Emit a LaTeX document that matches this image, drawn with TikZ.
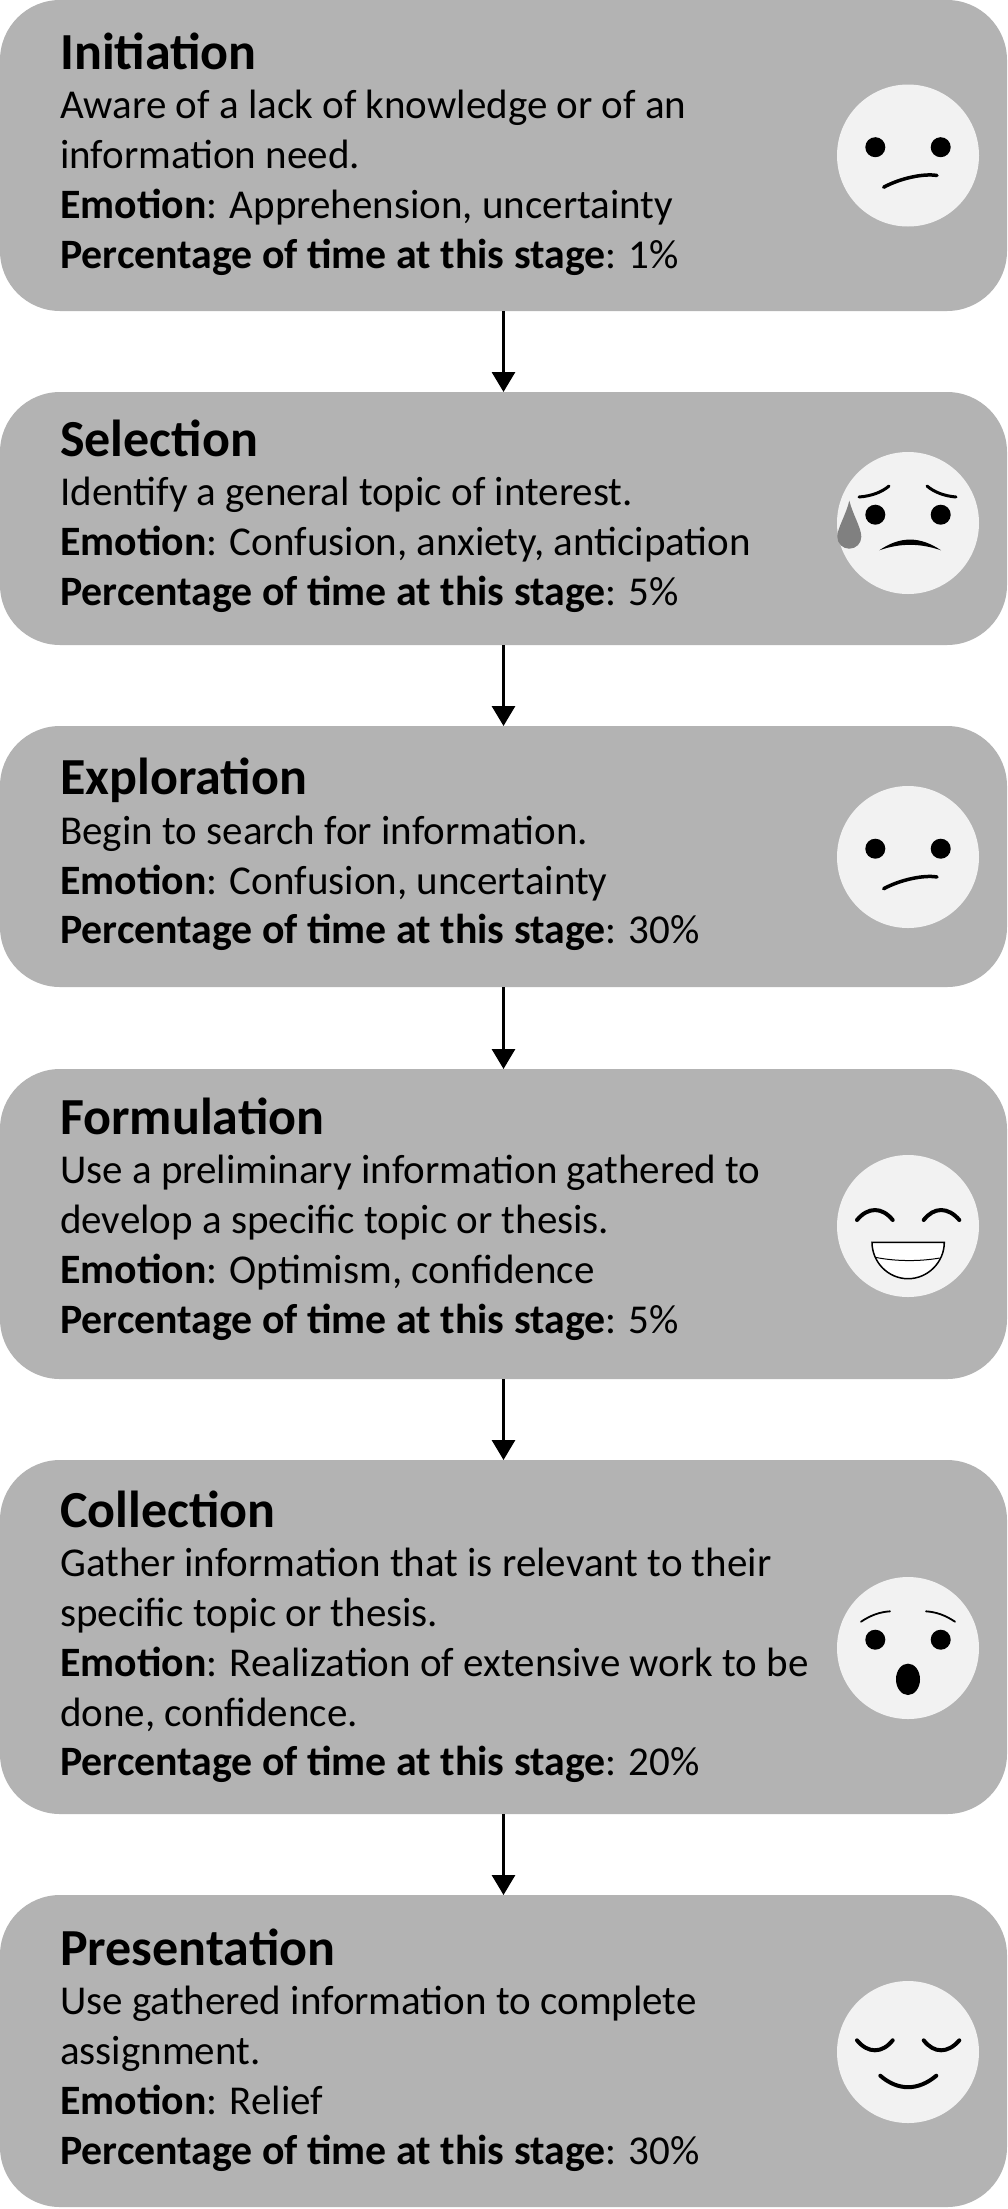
\documentclass[tikz,border=0pt]{standalone}
\usepackage{fontspec}
\setmainfont[BoldFeatures={Scale=1.02}]{Carlito}
\usetikzlibrary{arrows.meta}
\newcommand{\stagetitle}[1]{\rule{0pt}{40pt}{\fontsize{51}{50}\selectfont\textbf{#1}}}

\begin{document}
\begin{tikzpicture}[
  x=1pt, y=-1pt,
  >={Triangle[length=20pt,width=23pt]},
  stagebox/.style={fill=boxgray, rounded corners=60pt, minimum width=1007pt,
                   inner sep=0pt, outer sep=0pt},
  stagetext/.style={anchor=north west, inner sep=0pt, align=left,
                    font=\fontsize{41}{49.7}\selectfont},
  facedisc/.style={circle, fill=facegray, minimum size=142pt, inner sep=0pt},
  eyedot/.style={fill=black},
  faceline/.style={draw=black, line width=3.5pt, line cap=round},
  flow/.style={->, line width=3pt}
]
\definecolor{boxgray}{HTML}{B3B3B3}
\definecolor{facegray}{HTML}{F2F2F2}
\definecolor{dropgray}{HTML}{808080}
\useasboundingbox (0,0) rectangle (1007,2209);

% ---- STAGE BOXES ----
\node[stagebox, minimum height=311pt] (initiation) at (503.5,155.5) {};
\node[stagebox, minimum height=253pt] (selection) at (503.5,518.5) {};
\node[stagebox, minimum height=261pt] (exploration) at (503.5,856.5) {};
\node[stagebox, minimum height=310pt] (formulation) at (503.5,1224) {};
\node[stagebox, minimum height=354pt] (collection) at (503.5,1637) {};
\node[stagebox, minimum height=312pt] (presentation) at (503.5,2051) {};

% ---- ARROWS ----
\draw[flow] (initiation) -- (selection);
\draw[flow] (selection) -- (exploration);
\draw[flow] (exploration) -- (formulation);
\draw[flow] (formulation) -- (collection);
\draw[flow] (collection) -- (presentation);

% ---- STAGE TEXT ----
\node[stagetext] (initiationtext) at (60,29) {\stagetitle{Initiation}\\
  Aware of a lack of knowledge or of an\\
  information need.\\
  \textbf{Emotion}: Apprehension, uncertainty\\
  \textbf{Percentage of time at this stage}: 1\%};
\node[stagetext] (selectiontext) at (60,416) {\stagetitle{Selection}\\
  Identify a general topic of interest.\\
  \textbf{Emotion}: Confusion, anxiety, anticipation\\
  \textbf{Percentage of time at this stage}: 5\%};
\node[stagetext] (explorationtext) at (60,754.5) {\stagetitle{Exploration}\\
  Begin to search for information.\\
  \textbf{Emotion}: Confusion, uncertainty\\
  \textbf{Percentage of time at this stage}: 30\%};
\node[stagetext] (formulationtext) at (60,1094) {\stagetitle{Formulation}\\
  Use a preliminary information gathered to\\
  develop a specific topic or thesis.\\
  \textbf{Emotion}: Optimism, confidence\\
  \textbf{Percentage of time at this stage}: 5\%};
\node[stagetext] (collectiontext) at (60,1487) {\stagetitle{Collection}\\
  Gather information that is relevant to their\\
  specific topic or thesis.\\
  \textbf{Emotion}: Realization of extensive work to be\\
  done, confidence.\\
  \textbf{Percentage of time at this stage}: 20\%};
\node[stagetext] (presentationtext) at (60,1925) {\stagetitle{Presentation}\\
  Use gathered information to complete\\
  assignment.\\
  \textbf{Emotion}: Relief\\
  \textbf{Percentage of time at this stage}: 30\%};

% ---- FACES ----
\node[facedisc] (face1) at (908,155.5) {};
\node[facedisc] (face2) at (908,523) {};
\node[facedisc] (face3) at (908,857) {};
\node[facedisc] (face4) at (908,1226) {};
\node[facedisc] (face5) at (908,1648) {};
\node[facedisc] (face6) at (908,2052) {};

% Uneasy
\begin{scope}[shift={(face1.center)}]
  \fill[eyedot] (-32.7,-8.3) circle (10pt) (32.7,-8.3) circle (10pt);
  \draw[faceline] (-24.3,31.7) .. controls (-7.7,22.7) and (15.7,17.7) .. (29,20);
\end{scope}

% Worried, with a drop
\begin{scope}[shift={(face2.center)}]
  \fill[eyedot] (-32.7,-8.3) circle (10pt) (32.7,-8.3) circle (10pt);
  \draw[faceline, line width=3pt] (-49,-26) .. controls (-36,-27) and (-26,-31) .. (-19,-37);
  \draw[faceline, line width=3pt] (19,-37) .. controls (26,-31) and (36,-27) .. (48,-26);
  \fill[black] (-28.7,27.3) .. controls (-8,13) and (12,13) .. (33,27.3)
    .. controls (12,20) and (-8,20) .. cycle;
  \fill[dropgray] (-58.7,-22.3) .. controls (-62,-8) and (-70.7,5) .. (-70.7,13.7)
    .. controls (-70.7,20.5) and (-65.5,25.7) .. (-58.7,25.7)
    .. controls (-51.9,25.7) and (-46.7,20.5) .. (-46.7,13.7)
    .. controls (-46.7,5) and (-55,-8) .. cycle;
\end{scope}

% Uneasy again
\begin{scope}[shift={(face3.center)}]
  \fill[eyedot] (-32.7,-8.3) circle (10pt) (32.7,-8.3) circle (10pt);
  \draw[faceline] (-24.3,31.7) .. controls (-7.7,22.7) and (15.7,17.7) .. (29,20);
\end{scope}

% Laughing
\begin{scope}[shift={(face4.center)}]
  \draw[faceline, line width=4pt] (-51,-6) .. controls (-40,-19.3) and (-26,-19.3) .. (-15.3,-6);
  \draw[faceline, line width=4pt] (15.7,-6) .. controls (26,-19.3) and (40,-19.3) .. (51.3,-6);
  \draw[fill=white, line width=1.5pt] (-36,16.3) -- (36.3,16.3)
    .. controls (36.3,36) and (20,52.7) .. (0,52.7)
    .. controls (-20,52.7) and (-36,36) .. cycle;
  \draw[line width=1pt] (-32.7,31.3) .. controls (-12,35.5) and (12,35.5) .. (31.7,32);
\end{scope}

% Surprised
\begin{scope}[shift={(face5.center)}]
  \fill[eyedot] (-32.7,-8.3) circle (10pt) (32.7,-8.3) circle (10pt);
  \draw[faceline, line width=1.8pt] (-47,-26.3) .. controls (-37,-33) and (-28,-36) .. (-18,-36.7);
  \draw[faceline, line width=1.8pt] (18,-36.7) .. controls (28,-36) and (37,-33) .. (47,-26.3);
  \fill[black] (0,31.3) ellipse (12pt and 15.7pt);
\end{scope}

% Relieved
\begin{scope}[shift={(face6.center)}]
  \draw[faceline, line width=4pt] (-51,-11.7) .. controls (-40,1.6) and (-26,1.6) .. (-15.3,-11.7);
  \draw[faceline, line width=4pt] (15.7,-11.7) .. controls (26,1.6) and (40,1.6) .. (51.3,-11.7);
  \draw[faceline, line width=4pt] (-27.7,23.7) .. controls (-10,39) and (10,39) .. (28.3,23.7);
\end{scope}

\end{tikzpicture}
\end{document}
